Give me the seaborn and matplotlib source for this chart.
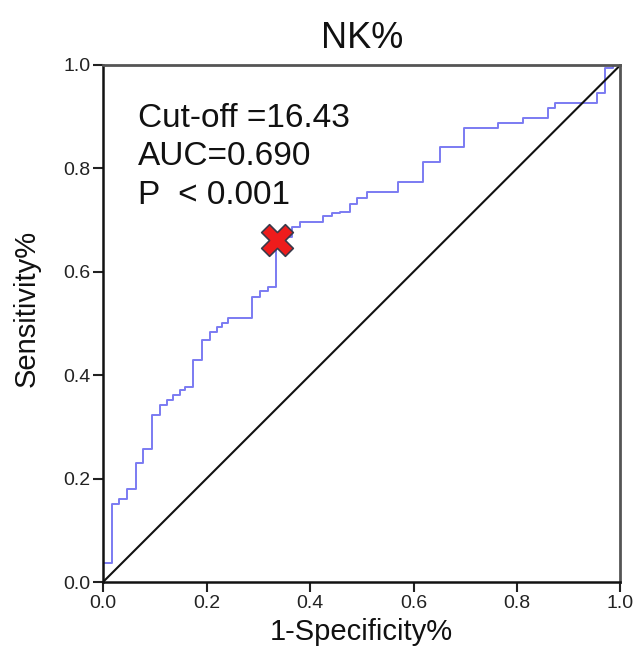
import matplotlib
matplotlib.use("Agg")
import matplotlib.pyplot as plt
import seaborn as sns
import pandas as pd

# ROC step vertices (1 - specificity, sensitivity); curve goes right, then up
fpr = [0.0, 0.0, 0.017, 0.030, 0.046, 0.064, 0.078, 0.094, 0.110, 0.123, 0.136,
       0.149, 0.158, 0.174, 0.191, 0.207, 0.220, 0.229, 0.242, 0.287, 0.303,
       0.319, 0.334, 0.345, 0.365, 0.381, 0.426, 0.442, 0.458, 0.477, 0.490,
       0.510, 0.571, 0.619, 0.651, 0.698, 0.764, 0.812, 0.860, 0.873, 0.954,
       0.970, 0.986, 1.0]
tpr = [0.0, 0.037, 0.151, 0.160, 0.179, 0.230, 0.257, 0.323, 0.342, 0.352, 0.362,
       0.371, 0.378, 0.429, 0.468, 0.484, 0.494, 0.500, 0.510, 0.552, 0.563,
       0.571, 0.655, 0.668, 0.687, 0.697, 0.707, 0.713, 0.716, 0.732, 0.742,
       0.755, 0.774, 0.813, 0.841, 0.879, 0.888, 0.898, 0.917, 0.927, 0.945,
       0.994, 1.0, 1.0]
ref_x = [0.0, 1.0]
ref_y = [0.0, 1.0]
cut_x = [0.336]
cut_y = [0.661]
title = "NK%"
xlabel = "1-Specificity%"
ylabel = "Sensitivity%"
annotations = ["Cut-off =16.43", "AUC=0.690", "P  < 0.001"]
ticks = [0.0, 0.2, 0.4, 0.6, 0.8, 1.0]
tick_labels = ["0.0", "0.2", "0.4", "0.6", "0.8", "1.0"]

sns.set_theme(style="white")
plt.rcParams["font.family"] = ["Liberation Sans", "DejaVu Sans"]

fig = plt.figure(figsize=(6.36, 6.56), dpi=100)
ax = fig.add_axes([0.162, 0.1128, 0.8136, 0.7882])

roc = pd.DataFrame({"fpr": fpr, "tpr": tpr})
sns.lineplot(data=roc, x="fpr", y="tpr", estimator=None, sort=False,
             drawstyle="steps-post", color="#7b7bf2", linewidth=1.4, ax=ax)
sns.lineplot(x=ref_x, y=ref_y, estimator=None, sort=False, color="#111111",
             linewidth=1.5, ax=ax)
sns.scatterplot(x=cut_x, y=cut_y, marker="X", s=520, color="#ee1c1c",
                edgecolor="#3a3a4a", linewidth=1.2, zorder=5, ax=ax)

ys = [0.897, 0.822, 0.748]
for t, yy in zip(annotations, ys):
    ax.text(0.068, yy, t, fontsize=24, va="center", ha="left", color="#111111")

ax.set_xlim(0, 1)
ax.set_ylim(0, 1)
ax.set_xticks(ticks)
ax.set_xticklabels(tick_labels)
ax.set_yticks(ticks)
ax.set_yticklabels(tick_labels)
ax.tick_params(axis="both", which="both", direction="out", length=7, width=1.5,
               colors="#222222", labelsize=14, pad=2, bottom=True, left=True)
ax.set_xlabel(xlabel, fontsize=21, color="#111111", labelpad=5)
ax.set_ylabel(ylabel, fontsize=21, color="#111111", labelpad=12)
ax.yaxis.set_label_coords(-0.12, 0.53)
ax.set_title(title, fontsize=26, color="#111111", pad=12)

for side in ["left", "bottom"]:
    ax.spines[side].set_color("#111111")
    ax.spines[side].set_linewidth(1.8)
for side in ["top", "right"]:
    ax.spines[side].set_color("#555555")
    ax.spines[side].set_linewidth(2.0)
    ax.spines[side].set_visible(True)

fig.savefig("out.png", dpi=100)
